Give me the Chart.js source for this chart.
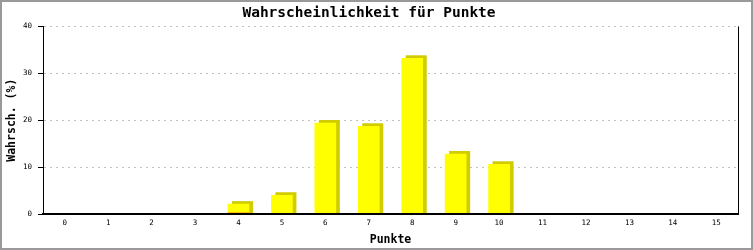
<!DOCTYPE html>
<html>
<head>
<meta charset="utf-8">
<script src="https://cdn.jsdelivr.net/npm/chart.js@4/dist/chart.umd.min.js"></script>
<style>
  html, body { margin: 0; padding: 0; background: #fff; }
  canvas { display: block; }
</style>
</head>
<body>
<canvas id="myChart" width="753" height="250"></canvas>
<script>
const categories = ['0', '1', '2', '3', '4', '5', '6', '7', '8', '9', '10', '11', '12', '13', '14', '15'];
const redValues = [0, 0, 0, 0, 0.2, 0, 0, 0, 0, 0, 0, 0, 0, 0, 0, 0];
const yellowValues = [0, 0, 0, 0, 1.9, 4.0, 19.4, 18.7, 33.2, 12.8, 10.6, 0, 0, 0, 0, 0];
const yTicks = [0, 10, 20, 30, 40];

const mono = "'DejaVu Sans Mono', 'Liberation Mono', monospace";

// white background + grey frame + right edge of the plot
const framePlugin = {
    id: 'frame',
    beforeDraw(chart) {
        const ctx = chart.ctx;
        ctx.save();
        ctx.fillStyle = '#fff';
        ctx.fillRect(0, 0, chart.width, chart.height);
        ctx.restore();
    },
    afterDraw(chart) {
        const ctx = chart.ctx;
        const a = chart.chartArea;
        ctx.save();
        ctx.strokeStyle = '#000';
        ctx.lineWidth = 1;
        ctx.beginPath();
        ctx.moveTo(Math.round(a.right) + 0.5, a.top);
        ctx.lineTo(Math.round(a.right) + 0.5, a.bottom);
        ctx.stroke();
        ctx.strokeStyle = '#999';
        ctx.lineWidth = 2;
        ctx.strokeRect(1, 1, chart.width - 2, chart.height - 2);
        ctx.restore();
    }
};

// the darker block behind each bar
const shadowPlugin = {
    id: 'barShadow',
    beforeDatasetsDraw(chart) {
        const ctx = chart.ctx;
        const meta = chart.getDatasetMeta(1);
        const base = chart.scales.y.getPixelForValue(0);
        ctx.save();
        ctx.fillStyle = '#d0cc00';
        meta.data.forEach((bar, i) => {
            if (redValues[i] + yellowValues[i] <= 0) return;
            const left = bar.x - bar.width / 2 + 4;
            const top = bar.y - 3;
            ctx.fillRect(left, top, bar.width, base - top);
        });
        ctx.restore();
    }
};

const data = {
    labels: categories,
    datasets: [{
        data: redValues,
        backgroundColor: '#ff0000',
        barThickness: 21
    }, {
        data: yellowValues,
        backgroundColor: '#ffff00',
        barThickness: 21
    }]
};

const config = {
    type: 'bar',
    data,
    options: {
        responsive: false,
        animation: false,
        layout: { padding: { left: 0, right: 15, top: 0, bottom: 0 } },
        plugins: {
            legend: { display: false },
            tooltip: { enabled: false },
            title: {
                display: true,
                text: 'Wahrscheinlichkeit für Punkte',
                color: '#000',
                font: { family: mono, size: 14.5, weight: 'bold' },
                padding: { top: 5, bottom: 4 }
            }
        },
        scales: {
            x: {
                stacked: true,
                grid: { display: false, drawTicks: false },
                border: { display: true, color: '#000', width: 2, z: 1 },
                ticks: { color: '#000', font: { family: mono, size: 7.5 }, padding: 5, maxRotation: 0, autoSkip: false },
                title: {
                    display: true, text: 'Punkte', color: '#000',
                    font: { family: mono, size: 11.5, weight: 'bold' },
                    padding: { top: 3, bottom: 3 }
                },
                afterFit(scale) { scale.height = 36; }
            },
            y: {
                stacked: true,
                min: 0,
                max: 40,
                afterBuildTicks(scale) { scale.ticks = yTicks.map(v => ({ value: v })); },
                grid: {
                    color: ctx => (ctx.tick && ctx.tick.value === 0 ? 'rgba(0,0,0,0)' : '#c0c0c0'),
                    tickColor: '#000',
                    tickBorderDash: [],
                    tickLength: 5,
                    lineWidth: 1
                },
                border: { display: true, color: '#000', width: 1, dash: [2, 4] },
                ticks: { color: '#000', font: { family: mono, size: 7.5 }, padding: 6 },
                title: {
                    display: true, text: 'Wahrsch. (%)', color: '#000',
                    font: { family: mono, size: 11.5, weight: 'bold' },
                    padding: { top: 5, bottom: 0 }
                },
                afterFit(scale) { scale.width = 43; }
            }
        }
    },
    plugins: [framePlugin, shadowPlugin]
};

new Chart(document.getElementById('myChart'), config);
</script>
</body>
</html>
